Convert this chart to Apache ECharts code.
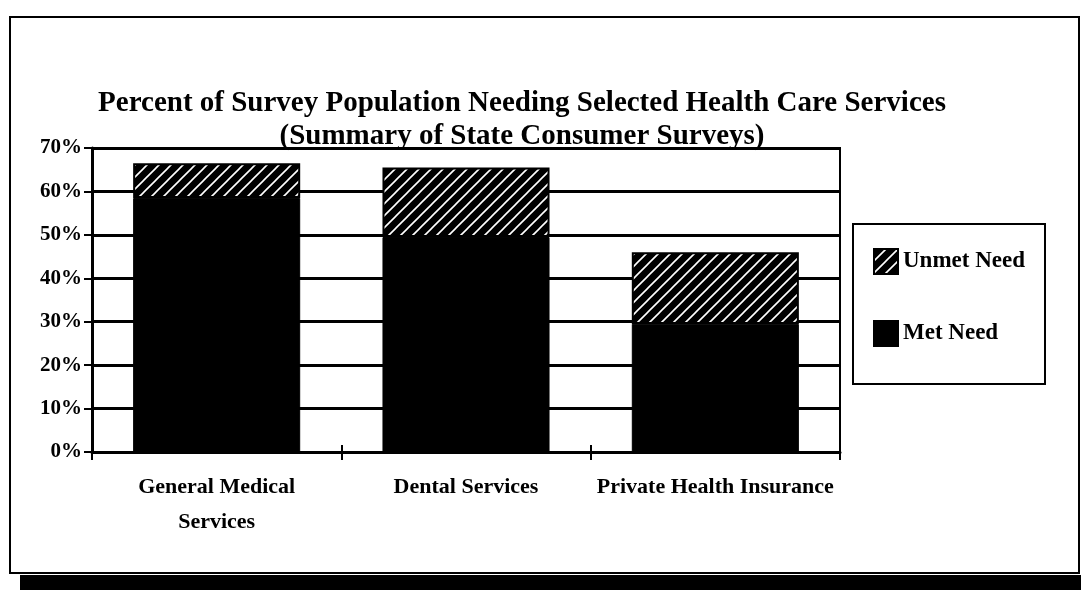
<!DOCTYPE html>
<html>
<head>
<meta charset="utf-8">
<script src="https://cdn.jsdelivr.net/npm/echarts@6/dist/echarts.min.js"></script>
<style>html,body{margin:0;padding:0;background:#fff}#c{width:1081px;height:590px}</style>
</head>
<body>
<div id="c"></div>
<script>
const categories = ['General Medical\nServices', 'Dental Services', 'Private Health Insurance'];
const metNeed = [58.5, 49.5, 29.5];
const unmetNeed = [8, 16, 16.5];
const yTicks = [0, 10, 20, 30, 40, 50, 60, 70];

const FONT = '"Liberation Serif", "Times New Roman", serif';

function hatch() {
  const s = 12;
  const c = document.createElement('canvas');
  c.width = s; c.height = s;
  const g = c.getContext('2d');
  g.fillStyle = '#000';
  g.fillRect(0, 0, s, s);
  g.strokeStyle = '#fff';
  g.lineWidth = 1.6;
  g.beginPath();
  g.moveTo(-2, s + 2); g.lineTo(s + 2, -2);
  g.moveTo(-2, 2); g.lineTo(2, -2);
  g.moveTo(s - 2, s + 2); g.lineTo(s + 2, s - 2);
  g.stroke();
  return c;
}

const chart = echarts.init(document.getElementById('c'));
chart.setOption({
  backgroundColor: '#fff',
  animation: false,
  title: {
    text: 'Percent of Survey Population Needing Selected Health Care Services\n(Summary of State Consumer Surveys)',
    left: 517, top: 82, textAlign: 'center',
    textStyle: { fontFamily: FONT, fontWeight: 'bold', fontSize: 29, lineHeight: 33, color: '#000' }
  },
  legend: {
    orient: 'vertical', left: 853, top: 224,
    data: ['Unmet Need', 'Met Need'],
    itemWidth: 24, itemHeight: 25, itemGap: 45,
    padding: [24, 20, 37, 20],
    borderColor: '#000', borderWidth: 2,
    textStyle: { fontFamily: FONT, fontWeight: 'bold', fontSize: 23, color: '#000' },
    icon: 'rect'
  },
  grid: { left: 92, right: 241, top: 148, bottom: 138, show: true, borderColor: '#000', borderWidth: 2 },
  xAxis: [{
    type: 'category', data: categories,
    axisLine: { lineStyle: { color: '#000', width: 3 } },
    axisTick: { show: true, length: 8, lineStyle: { color: '#000', width: 2 } },
    axisLabel: { interval: 0, hideOverlap: false, fontFamily: FONT, fontWeight: 'bold', fontSize: 22, lineHeight: 35, color: '#000', margin: 18 }
  }, {
    type: 'category', data: categories, position: 'bottom',
    axisLine: { show: false },
    axisTick: { show: true, inside: true, length: 7, lineStyle: { color: '#000', width: 2 } },
    axisLabel: { show: false }
  }],
  yAxis: {
    type: 'value', min: yTicks[0], max: yTicks[yTicks.length - 1], interval: 10,
    axisLine: { show: true, lineStyle: { color: '#000', width: 3 } },
    axisTick: { show: true, length: 8, lineStyle: { color: '#000', width: 2 } },
    axisLabel: { formatter: '{value}%', fontFamily: FONT, fontWeight: 'bold', fontSize: 21, color: '#000', margin: 10 },
    splitLine: { lineStyle: { color: '#000', width: 3 } }
  },
  series: [{
    name: 'Met Need', type: 'bar', stack: 'a', data: metNeed,
    barCategoryGap: '33%',
    itemStyle: { color: '#000', borderColor: '#000', borderWidth: 1 }
  }, {
    name: 'Unmet Need', type: 'bar', stack: 'a', data: unmetNeed,
    itemStyle: { color: { image: hatch(), repeat: 'repeat' }, borderColor: '#000', borderWidth: 2 }
  }],
  graphic: [
    { type: 'rect', shape: { x: 20, y: 575, width: 1061, height: 15 }, style: { fill: '#000' }, silent: true, z: -1 },
    { type: 'rect', shape: { x: 10, y: 17, width: 1069, height: 556 }, style: { fill: 'none', stroke: '#000', lineWidth: 2 }, silent: true, z: -1 }
  ]
});
</script>
</body>
</html>
